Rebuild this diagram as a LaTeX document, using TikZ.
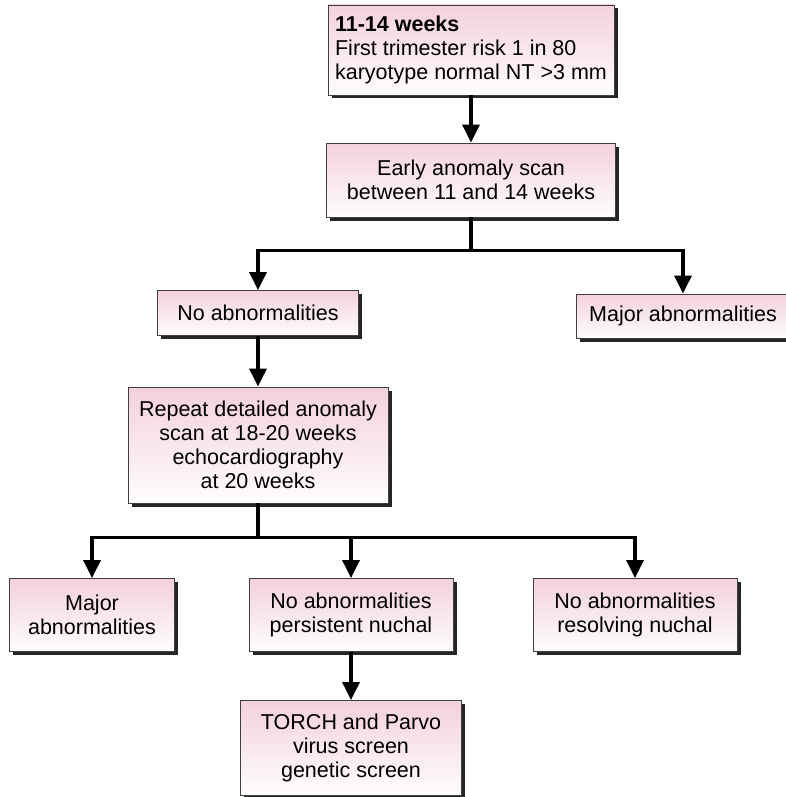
\documentclass[tikz,border=0pt]{standalone}
\usepackage{fontspec}
\setmainfont{Liberation Sans}
\usetikzlibrary{arrows.meta}
\usetikzlibrary{shadows}
\definecolor{boxpink}{RGB}{243,208,222}

\begin{document}
\begin{tikzpicture}[x=1pt, y=-1pt,
		box/.style={draw=black!75, line width=0.9pt, top color=boxpink, bottom color=white!97!boxpink, align=center, inner sep=6pt, font=\fontsize{21.5}{24}\selectfont, drop shadow={shadow xshift=3.5pt, shadow yshift=-3.5pt, fill=black!85, opacity=1}},
		arr/.style={line width=3.4pt, -{Triangle[width=17pt,length=18pt]}},
		stem/.style={line width=3.4pt}]
		\useasboundingbox (0,0) rectangle (785,797);
		
		\node[box, align=left, minimum width=286pt, minimum height=90pt] (risk) at (471,50) {\textbf{11-14 weeks}\\First trimester risk 1 in 80\\karyotype normal NT >3 mm};
		\node[box, minimum width=289pt, minimum height=74pt] (early) at (471,180) {Early anomaly scan\\between 11 and 14 weeks};
		\node[box, minimum width=201pt, minimum height=45pt] (noab) at (258,313) {No abnormalities};
		\node[box, minimum width=214pt, minimum height=44pt] (majab) at (683,316) {Major abnormalities};
		\node[box, minimum width=260pt, minimum height=116pt] (repeat) at (258,445) {Repeat detailed anomaly\\scan at 18-20 weeks\\echocardiography\\at 20 weeks};
		\node[box, minimum width=165pt, minimum height=73pt] (major) at (92,615) {Major\\abnormalities};
		\node[box, minimum width=204pt, minimum height=73pt] (persist) at (351,615) {No abnormalities\\persistent nuchal};
		\node[box, minimum width=204pt, minimum height=73pt] (resolve) at (635,615) {No abnormalities\\resolving nuchal};
		\node[box, minimum width=221pt, minimum height=95pt] (torch) at (351,748) {TORCH and Parvo\\virus screen\\genetic screen};
		
		\draw[arr] (risk) -- (early);
		\draw[stem] (early.south) -- ++(0,33) coordinate (fork1);
		\draw[arr] (fork1) -| (noab);
		\draw[arr] (fork1) -| (majab);
		\draw[arr] (noab) -- (repeat);
		\draw[stem] (repeat.south) -- ++(0,34) coordinate (fork2);
		\draw[arr] (fork2) -| (major);
		\draw[arr] (fork2) -| (persist);
		\draw[arr] (fork2) -| (resolve);
		\draw[arr] (persist) -- (torch);
	\end{tikzpicture}
\end{document}
